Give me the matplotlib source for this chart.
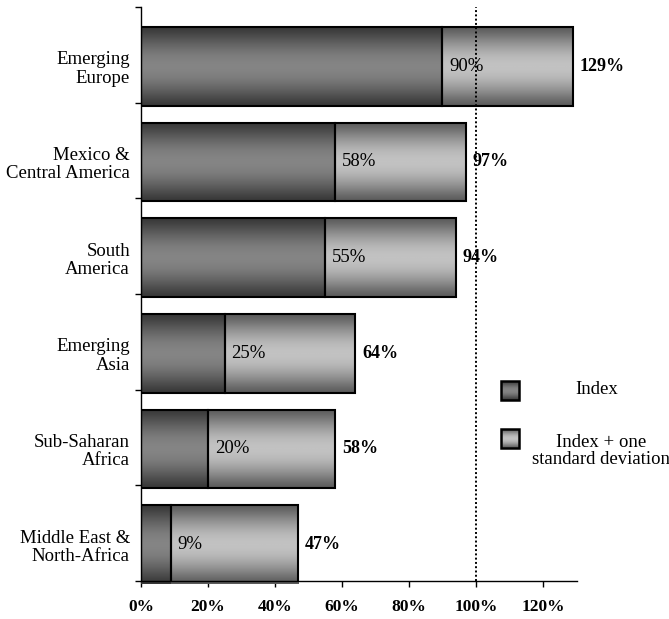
import matplotlib
matplotlib.use('Agg')
import matplotlib.pyplot as plt
from matplotlib.patches import Rectangle
import numpy as np

plt.rcParams['font.family'] = ['Liberation Serif', 'DejaVu Serif']

regions = ['Emerging\nEurope', 'Mexico &\nCentral America', 'South\nAmerica',
           'Emerging\nAsia', 'Sub-Saharan\nAfrica', 'Middle East &\nNorth-Africa']
index_vals = [0.90, 0.58, 0.55, 0.25, 0.20, 0.09]
plus_std_vals = [1.29, 0.97, 0.94, 0.64, 0.58, 0.47]
xticks = [0, 0.2, 0.4, 0.6, 0.8, 1.0, 1.2]


def gradient(dark, light, n=64):
   # dark at the edges, light in the middle (vertical shading)
   t = np.linspace(0, 1, n)
   w = np.sin(np.pi * t) ** 1.2
   vals = dark + (light - dark) * w
   return vals.reshape(-1, 1)


def shaded_bar(ax, y, left, width, height, dark, light):
   rect = Rectangle((left, y - height / 2), width, height,
                    facecolor='none', edgecolor='black', linewidth=1.5, zorder=3)
   ax.add_patch(rect)
   img = ax.imshow(gradient(dark, light), cmap='gray', vmin=0, vmax=1,
                   extent=(left, left + width, y + height / 2, y - height / 2),
                   aspect='auto', interpolation='bicubic', zorder=2)
   img.set_clip_path(rect)


fig = plt.figure(figsize=(6.69, 6.19), dpi=100)
ax = fig.add_axes([141 / 669, 1 - 581 / 619, 435.5 / 669, 574 / 619])

ypos = np.arange(len(regions)) + 0.62
bar_h = 0.82
for y, iv, sv in zip(ypos, index_vals, plus_std_vals):
   shaded_bar(ax, y, 0, iv, bar_h, 0.22, 0.52)
   shaded_bar(ax, y, iv, sv - iv, bar_h, 0.36, 0.76)
   ax.text(iv + 0.02, y, '{:.0f}%'.format(iv * 100), va='center', ha='left',
           fontsize=13.5, zorder=5)
   ax.text(sv + 0.02, y, '{:.0f}%'.format(sv * 100), va='center', ha='left',
           fontsize=13, fontweight='bold', zorder=5)

ax.axvline(1.0, color='black', linestyle=(0, (1, 1.2)), linewidth=1.4, zorder=4)

ax.set_xlim(0, 1.3)
ax.set_ylim(6, 0)
ax.set_xticks(xticks)
ax.set_xticklabels(['{:.0f}%'.format(v * 100) for v in xticks],
                   fontsize=12.5, fontweight='bold')
ax.set_yticks(range(7))
ax.set_yticklabels([])
ax.set_yticks(ypos, minor=True)
ax.set_yticklabels(regions, minor=True, fontsize=13.5, ha='right',
                   linespacing=1.1)
ax.tick_params(axis='y', which='minor', length=0, pad=8)
ax.tick_params(axis='y', which='major', length=4, width=1)
ax.tick_params(axis='x', length=4, width=1, pad=9)
ax.spines['top'].set_visible(False)
ax.spines['right'].set_visible(False)
ax.spines['left'].set_linewidth(1)
ax.spines['bottom'].set_linewidth(1)

# legend drawn by hand
lax = fig.add_axes([0, 0, 1, 1])
lax.set_xlim(0, 669)
lax.set_ylim(619, 0)
lax.axis('off')
for (y0, dark, light) in [(381, 0.22, 0.52), (429, 0.36, 0.76)]:
   r = Rectangle((501, y0), 18, 19, facecolor='none', edgecolor='black',
                 linewidth=1.8, zorder=3)
   lax.add_patch(r)
   im = lax.imshow(gradient(dark, light), cmap='gray', vmin=0, vmax=1,
                   extent=(501, 519, y0 + 19, y0), aspect='auto',
                   interpolation='bicubic', zorder=2)
   im.set_clip_path(r)
lax.text(597, 390, 'Index', ha='center', va='center', fontsize=13.5)
lax.text(601, 451, 'Index + one\nstandard deviation', ha='center', va='center',
         fontsize=13.5, linespacing=1.05)
lax.set_xlim(0, 669)
lax.set_ylim(619, 0)

fig.savefig('out.png', dpi=100)
